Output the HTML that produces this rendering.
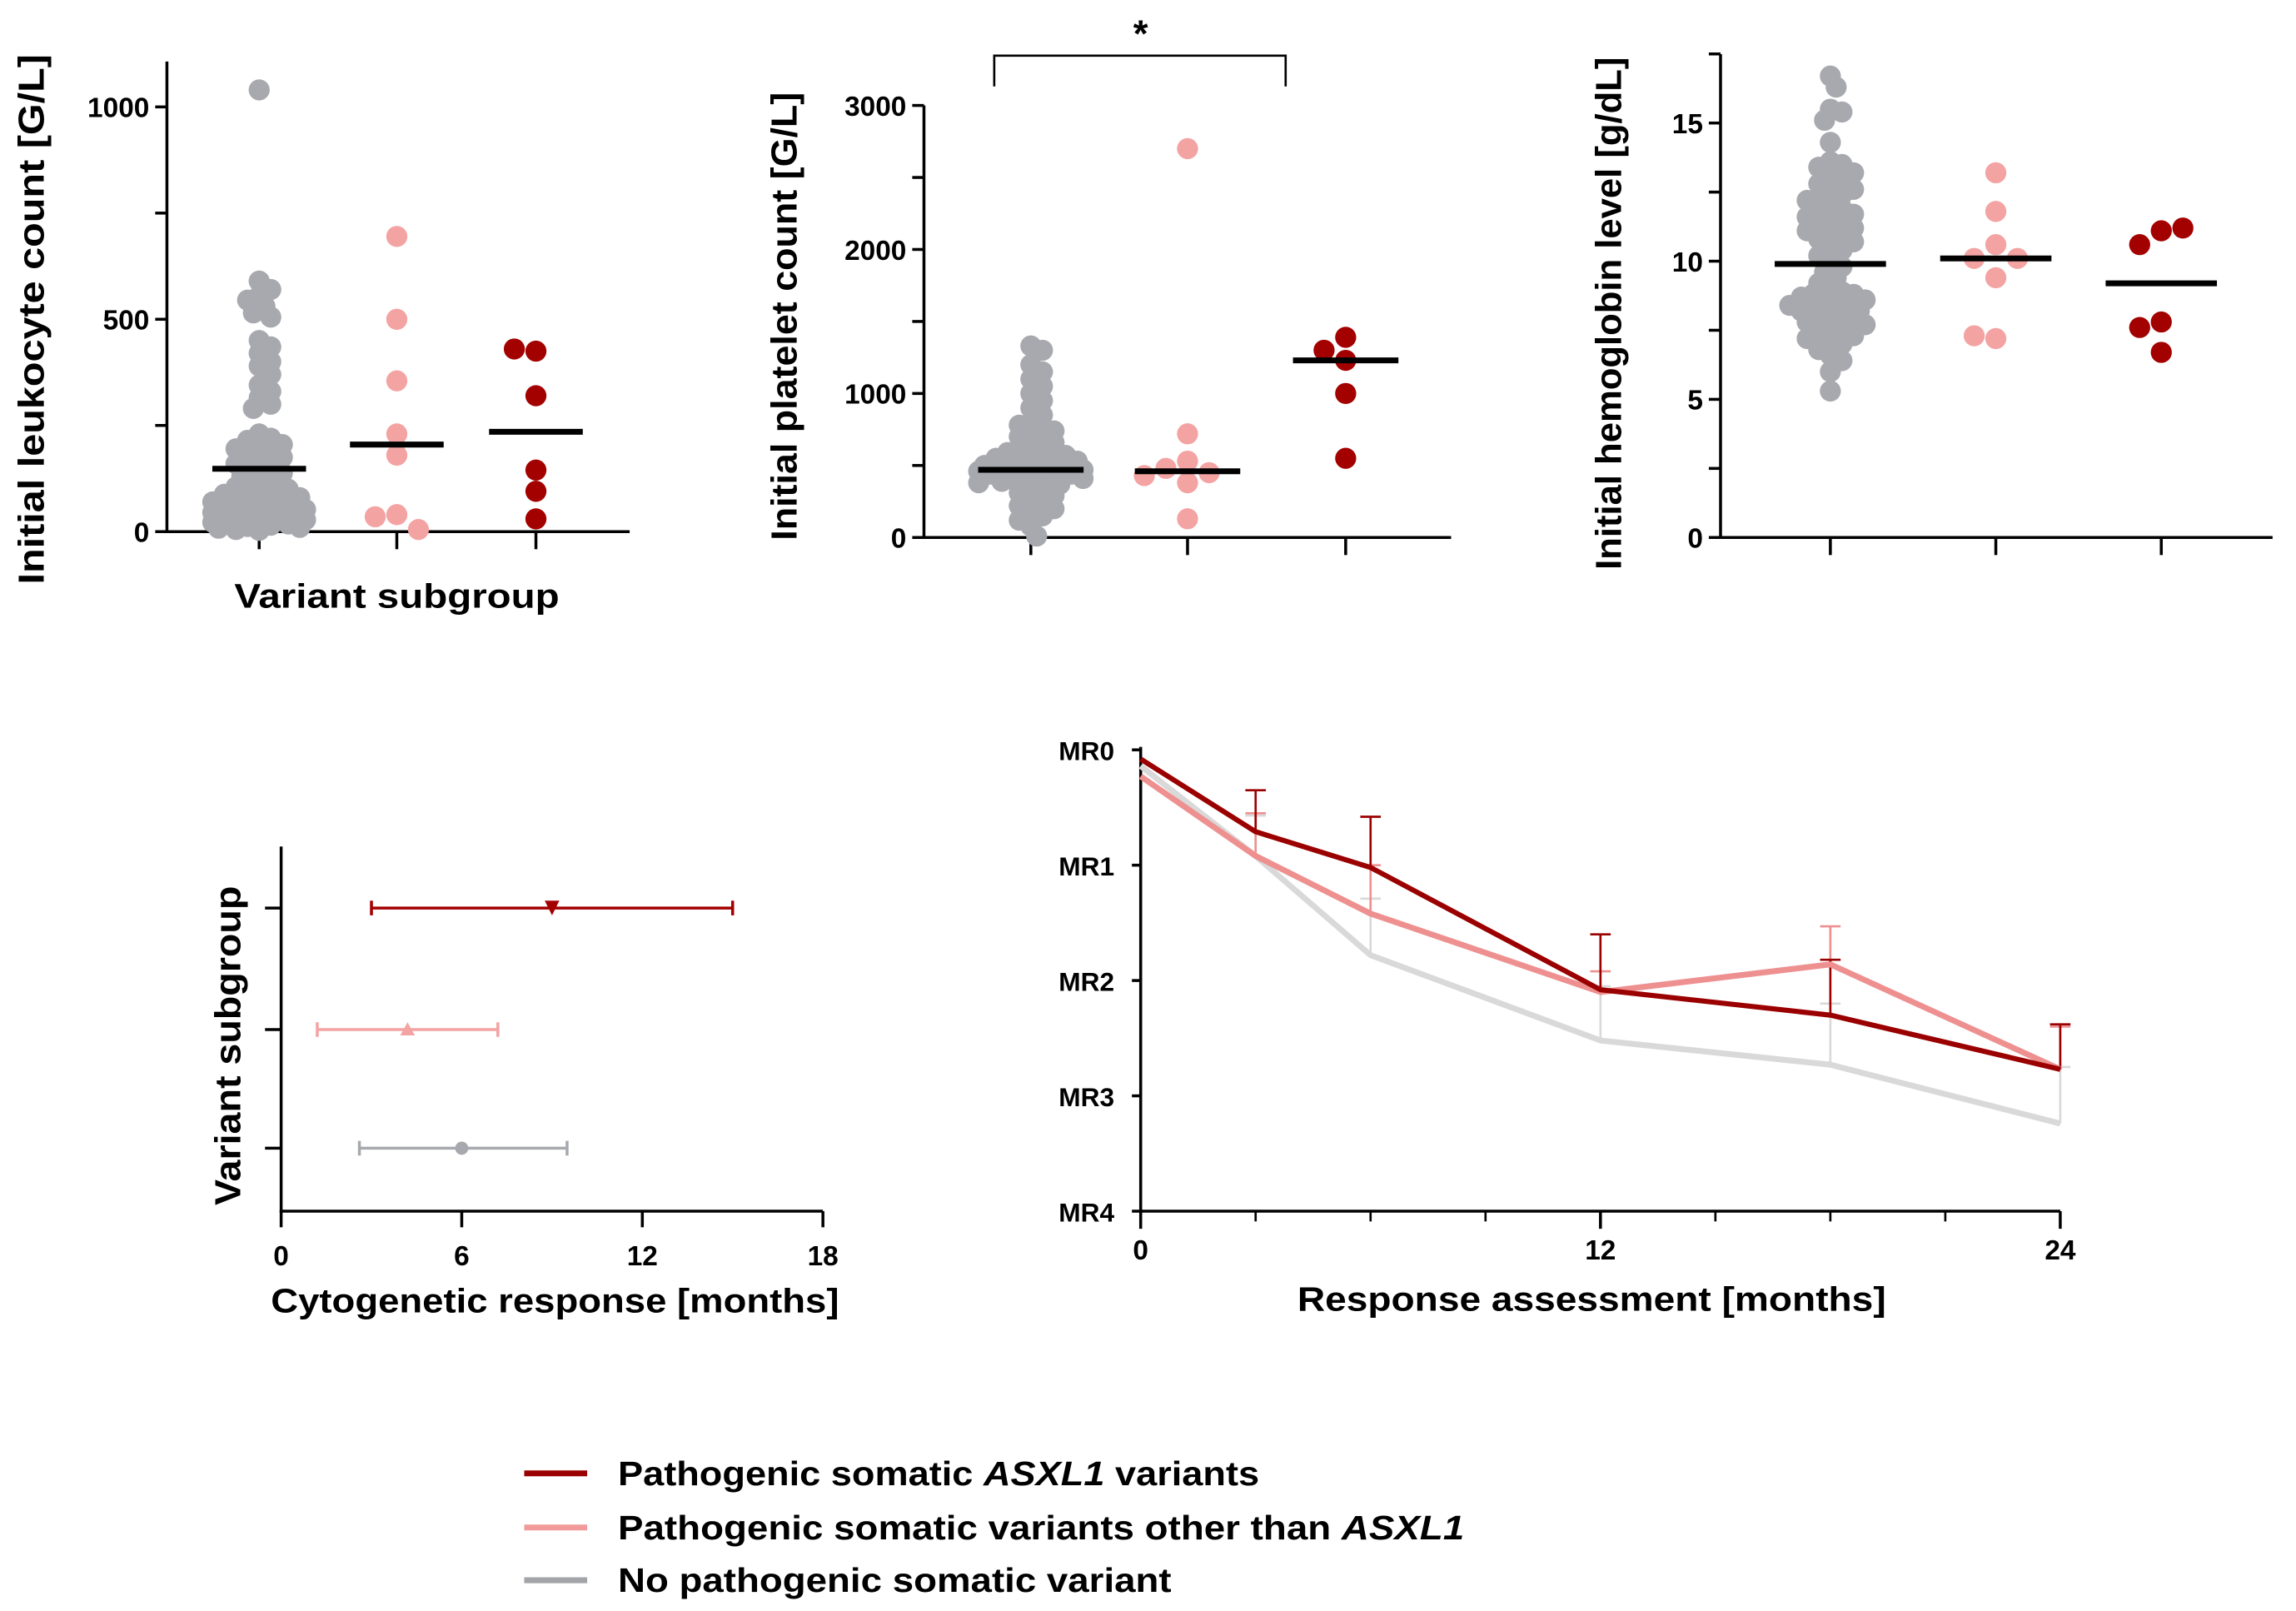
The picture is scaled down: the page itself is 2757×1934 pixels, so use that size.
<!DOCTYPE html>
<html><head><meta charset="utf-8"><style>
html,body{margin:0;padding:0;background:#fff;}
svg{display:block;}
text{font-family:"Liberation Sans",Arial,sans-serif;font-weight:bold;fill:#000;}
</style></head>
<body>
<svg id="fig" xmlns="http://www.w3.org/2000/svg" width="2757" height="1934" viewBox="0 0 1568 1100" preserveAspectRatio="none">
<g id="legend">
  <g>
    <line x1="358" y1="1006" x2="401" y2="1006" stroke="#9b0000" stroke-width="4"/>
    <text x="422" y="1014" font-size="23" textLength="438" lengthAdjust="spacingAndGlyphs">Pathogenic somatic <tspan font-style="italic">ASXL1</tspan> variants</text>
  </g>
  <g>
    <line x1="358" y1="1043" x2="401" y2="1043" stroke="#f19a9a" stroke-width="4"/>
    <text x="422" y="1051" font-size="23" textLength="578" lengthAdjust="spacingAndGlyphs">Pathogenic somatic variants other than <tspan font-style="italic">ASXL1</tspan></text>
  </g>
  <g>
    <line x1="358" y1="1079" x2="401" y2="1079" stroke="#a3a4a8" stroke-width="4"/>
    <text x="422" y="1087" font-size="23" textLength="378" lengthAdjust="spacingAndGlyphs">No pathogenic somatic variant</text>
  </g>
</g>
</svg>
<script>
// ---------- data ----------
const groups = ['none','other','asxl1'];
const leukoGray = [1040,590,570,555,545,530,515,505,450,435,420,400,390,370,345,330,315,300,290,230,220,215,205,200,195,185,180,175,168,160,152,145,138,130,125,118,110,105,100,95,90,88,82,80,76,72,70,66,62,60,57,55,52,50,48,45,42,40,38,35,33,30,28,25,22,20,18,15,12,10,8,5,3];
const leukoPink = [695,500,355,230,180,40,35,5];
const leukoDark = [425,430,320,145,95,30];
const leukoMeans = [148,205,235];
const pltGray = [1330,1300,1200,1150,1100,1050,1000,950,900,850,800,780,760,740,720,700,680,660,640,620,600,590,580,570,560,550,540,530,520,510,500,500,490,480,480,470,470,460,460,450,450,440,440,430,430,420,410,400,390,380,370,350,330,310,290,270,250,220,200,180,150,120,80,10];
const pltPink = [2700,720,530,480,450,430,380,130];
const pltDark = [1390,1300,1230,1000,550];
const pltMeans = [470,460,1230];
const hbGray = [16.7,16.3,15.5,15.4,15.1,14.3,13.6,13.5,13.4,13.2,13.0,12.9,12.8,12.6,12.5,12.4,12.3,12.2,12.0,11.9,11.8,11.7,11.6,11.5,11.4,11.3,11.2,11.1,11.0,10.9,10.8,10.7,10.5,10.4,10.2,10.0,9.8,9.6,9.4,9.2,9.0,8.9,8.8,8.8,8.7,8.6,8.6,8.5,8.4,8.4,8.3,8.2,8.2,8.1,8.0,7.9,7.8,7.8,7.7,7.6,7.5,7.4,7.3,7.2,7.1,7.0,6.8,6.6,6.4,6.0,5.3];
const hbPink = [13.2,11.8,10.6,10.1,10.1,9.4,7.2,7.3];
const hbDark = [11.1,10.6,11.2,7.8,7.6,6.7];
const hbMeans = [9.9,10.1,9.2];
// cytogenetic response (months): mean, low, high per group
const cytoMean = [6.0,4.2,9.0];
const cytoLow = [2.6,1.2,3.0];
const cytoHigh = [9.5,7.2,15.0];
// molecular response
const months = [0,3,6,12,18,24];
const mrAsxl1 = [0.08,0.71,1.02,2.08,2.30,2.77];
const mrAsxl1Err = [0.05,0.35,0.58,1.60,1.82,2.38];
const mrOther = [0.23,0.92,1.42,2.10,1.86,2.77];
const mrOtherErr = [0.2,0.55,1.0,1.92,1.53,2.4];
const mrNone = [0.14,0.92,1.78,2.52,2.73,3.24];
const mrNoneErr = [0.12,0.57,1.29,2.05,2.20,2.75];

const NS='http://www.w3.org/2000/svg';
const svg=document.getElementById('fig');
const COL={none:'#a7a9ae',other:'#f4a3a3',asxl1:'#a30000'};
function mk(tag,attrs,parent){const e=document.createElementNS(NS,tag);for(const k in attrs)e.setAttribute(k,attrs[k]);(parent||svg).appendChild(e);return e;}
function txt(s,attrs,parent){const e=mk('text',attrs,parent);e.textContent=s;return e;}

function swarm(vals,cx,yf,r,g,color,name,maxw){
  const placed=[];
  vals.forEach(v=>{
    const y=yf(v);let x=cx;let best=null,bestD=-1;
    for(let k=0;k<40;k++){
      const off=(k%2?1:-1)*Math.ceil(k/2)*r*0.55;
      if(Math.abs(off)>maxw) break;
      const tx=cx+off;
      let md=Infinity;placed.forEach(p=>{const d=(p[0]-tx)**2+(p[1]-y)**2;if(d<md)md=d;});
      if(md>=(r*1.05)**2){best=tx;break;}
      if(md>bestD){bestD=md;x=tx;}
    }
    if(best!==null) x=best;
    placed.push([x,y]);
    const c=mk('circle',{cx:x,cy:y,r:r,fill:color},g);
    
    
  });
}
function spreadPts(vals,cx,yf,r,g,color,name){
  const placed=[];
  vals.forEach(v=>{
    const y=yf(v);let x=cx;
    const offs=[0,-1,1,-2,2];
    for(const o of offs){const tx=cx+o*r*2.05;if(placed.every(p=>(p[0]-tx)**2+(p[1]-y)**2>=(r*2)**2)){x=tx;break;}}
    placed.push([x,y]);
    const c=mk('circle',{cx:x,cy:y,r:r,fill:color},g);
    
    
  });
}

function dotPlot(o){
  const g=mk('g',{});
  
  
  const yf=v=>o.y0-(v-o.vmin)/(o.vmax-o.vmin)*(o.y0-o.y1);
  mk('line',{x1:o.ax,y1:o.top,x2:o.ax,y2:o.y0+1,stroke:'#000','stroke-width':2},g);
  mk('line',{x1:o.ax-1,y1:o.y0,x2:o.xend,y2:o.y0,stroke:'#000','stroke-width':2},g);
  o.ticks.forEach((t,i)=>{
    const y=yf(t);
    const tk=mk('line',{x1:o.ax-8,y1:y,x2:o.ax,y2:y,stroke:'#000','stroke-width':2},g);
    
    if(o.tickLabels[i]!==''){
      const l=txt(o.tickLabels[i],{x:o.ax-12,y:y+7,'font-size':19,'text-anchor':'end'},g);
      
      
    }
  });
  o.cats.forEach(cx=>{const tk=mk('line',{x1:cx,y1:o.y0,x2:cx,y2:o.y0+12,stroke:'#000','stroke-width':2},g);});
  const r=7.2;
  swarm(o.gray,o.cats[0],yf,r,g,COL.none,'point-no-variant',o.maxw);
  spreadPts(o.pink,o.cats[1],yf,r,g,COL.other,'point-other-variant');
  spreadPts(o.dark,o.cats[2],yf,r,g,COL.asxl1,'point-asxl1');
  o.means.forEach((m,i)=>{
    const w=i===0?o.mw0:o.mw;
    const ln=mk('line',{x1:o.cats[i]-w,y1:yf(m),x2:o.cats[i]+w,y2:yf(m),stroke:'#000','stroke-width':4},g);
    
    
  });
  const t=txt(o.title,{x:0,y:0,'font-size':25,'text-anchor':'middle',textLength:o.tl,lengthAdjust:'spacingAndGlyphs',transform:`translate(${o.tx},${o.ty}) rotate(-90)`},g);
  
  
  return {g,yf};
}

const p1=dotPlot({name:'leukocyte-chart',ax:114,top:42,xend:430,y0:363,y1:73,vmin:0,vmax:1000,
  ticks:[0,250,500,750,1000],tickLabels:['0','','500','','1000'],cats:[177,271,366],maxw:32,
  gray:leukoGray,pink:leukoPink,dark:leukoDark,means:leukoMeans,mw0:32,mw:32,title:'Initial leukocyte count [G/L]',tx:30,ty:218,tl:362});
const xl=txt('Variant subgroup',{x:271,y:415,'font-size':23,'text-anchor':'middle',textLength:222,lengthAdjust:'spacingAndGlyphs'},p1.g);



const p2=dotPlot({name:'platelet-chart',ax:631,top:72,xend:991,y0:367,y1:72,vmin:0,vmax:3000,
  ticks:[0,500,1000,1500,2000,2500,3000],tickLabels:['0','','1000','','2000','','3000'],cats:[704,811,919],maxw:36,
  gray:pltGray,pink:pltPink,dark:pltDark,means:pltMeans,mw0:36,mw:36,title:'Initial platelet count [G/L]',tx:544,ty:216,tl:306});
const br=mk('path',{d:'M679,59 V38 H878 V59',fill:'none',stroke:'#000','stroke-width':1.5},p2.g);


const st=txt('*',{x:779,y:32,'font-size':26,'text-anchor':'middle'},p2.g);



const p3=dotPlot({name:'hemoglobin-chart',ax:1175,top:37,xend:1552,y0:367,y1:84,vmin:0,vmax:15,
  ticks:[0,2.5,5,7.5,10,12.5,15,17.5],tickLabels:['0','','5','','10','','15',''],cats:[1250,1363,1476],maxw:36,
  gray:hbGray,pink:hbPink,dark:hbDark,means:hbMeans,mw0:38,mw:38,title:'Initial hemoglobin level [g/dL]',tx:1107,ty:214,tl:350});

// ---------- cytogenetic chart ----------
(function(){
  const g=mk('g',{});
  
  
  const ax=192,y0=827,top=578,xr=562;
  const xf=v=>ax+v/18*(xr-ax);
  const rows=[784,703,620];
  mk('line',{x1:ax,y1:top,x2:ax,y2:y0+1,stroke:'#000','stroke-width':2},g);
  mk('line',{x1:ax-1,y1:y0,x2:xr,y2:y0,stroke:'#000','stroke-width':2},g);
  [0,6,12,18].forEach(t=>{
    mk('line',{x1:xf(t),y1:y0,x2:xf(t),y2:y0+11,stroke:'#000','stroke-width':2},g);
    const l=txt(String(t),{x:xf(t),y:864,'font-size':19,'text-anchor':'middle'},g);
    
    
  });
  const cols=[COL.none,COL.other,COL.asxl1];
  rows.forEach((y,i)=>{
    mk('line',{x1:ax-11,y1:y,x2:ax,y2:y,stroke:'#000','stroke-width':2},g);
    const e=mk('path',{d:`M${xf(cytoLow[i])},${y} H${xf(cytoHigh[i])} M${xf(cytoLow[i])},${y-5} V${y+5} M${xf(cytoHigh[i])},${y-5} V${y+5}`,stroke:cols[i],'stroke-width':2,fill:'none'},g);
    
    
    const mx=xf(cytoMean[i]);let m;
    if(i===0) m=mk('circle',{cx:mx,cy:y,r:4.5,fill:cols[i]},g);
    else if(i===1) m=mk('path',{d:`M${mx-5},${y+4} L${mx+5},${y+4} L${mx},${y-5}Z`,fill:cols[i]},g);
    else m=mk('path',{d:`M${mx-5},${y-5} L${mx+5},${y-5} L${mx},${y+5}Z`,fill:cols[i]},g);
    
    
  });
  const t=txt('Variant subgroup',{x:0,y:0,'font-size':25,'text-anchor':'middle',textLength:218,lengthAdjust:'spacingAndGlyphs',transform:'translate(164,714) rotate(-90)'},g);
  
  
  const xt=txt('Cytogenetic response [months]',{x:379,y:896,'font-size':23,'text-anchor':'middle',textLength:388,lengthAdjust:'spacingAndGlyphs'},g);
  
  
})();

// ---------- molecular response chart ----------
(function(){
  const g=mk('g',{});
  
  
  const ax=779,y0=827,ytop=512,xr=1407;
  const xf=m=>ax+m/24*(xr-ax);
  const yf=v=>ytop+v/4*(y0-ytop);
  mk('line',{x1:ax,y1:ytop-2,x2:ax,y2:y0+1,stroke:'#000','stroke-width':2},g);
  mk('line',{x1:ax-1,y1:y0,x2:xr,y2:y0,stroke:'#000','stroke-width':2},g);
  ['MR0','MR1','MR2','MR3','MR4'].forEach((s,i)=>{
    mk('line',{x1:ax-6,y1:yf(i),x2:ax,y2:yf(i),stroke:'#000','stroke-width':2},g);
    const l=txt(s,{x:ax-18,y:yf(i)+7,'font-size':18,'text-anchor':'end'},g);
    
    
  });
  for(let m=0;m<=24;m+=3){
    const big=m%12===0;
    mk('line',{x1:xf(m),y1:y0,x2:xf(m),y2:y0+(big?12:7),stroke:'#000','stroke-width':big?2:1.5},g);
    if(big){const l=txt(String(m),{x:xf(m),y:860,'font-size':19,'text-anchor':'middle'},g);
      
      }
  }
  const series=[[mrNone,mrNoneErr,'#d9d9d9','none',4],[mrOther,mrOtherErr,'#ee9090','other',4],[mrAsxl1,mrAsxl1Err,'#9b0000','asxl1',3.5]];
  series.forEach(([vals,err,c,nm,w])=>{
    vals.forEach((v,i)=>{
      if(i===0) return;
      const e=mk('path',{d:`M${xf(months[i])},${yf(v)} V${yf(err[i])} M${xf(months[i])-7},${yf(err[i])} H${xf(months[i])+7}`,stroke:c,'stroke-width':1.5,fill:'none'},g);
      
      
    });
  });
  series.forEach(([vals,err,c,nm,w])=>{
    const p=mk('polyline',{points:vals.map((v,i)=>xf(months[i])+','+yf(v)).join(' '),fill:'none',stroke:c,'stroke-width':w,'stroke-linejoin':'round'},g);
    
    
  });
  const xt=txt('Response assessment [months]',{x:1087,y:895,'font-size':23,'text-anchor':'middle',textLength:402,lengthAdjust:'spacingAndGlyphs'},g);
  
  
})();
</script>
</body></html>
